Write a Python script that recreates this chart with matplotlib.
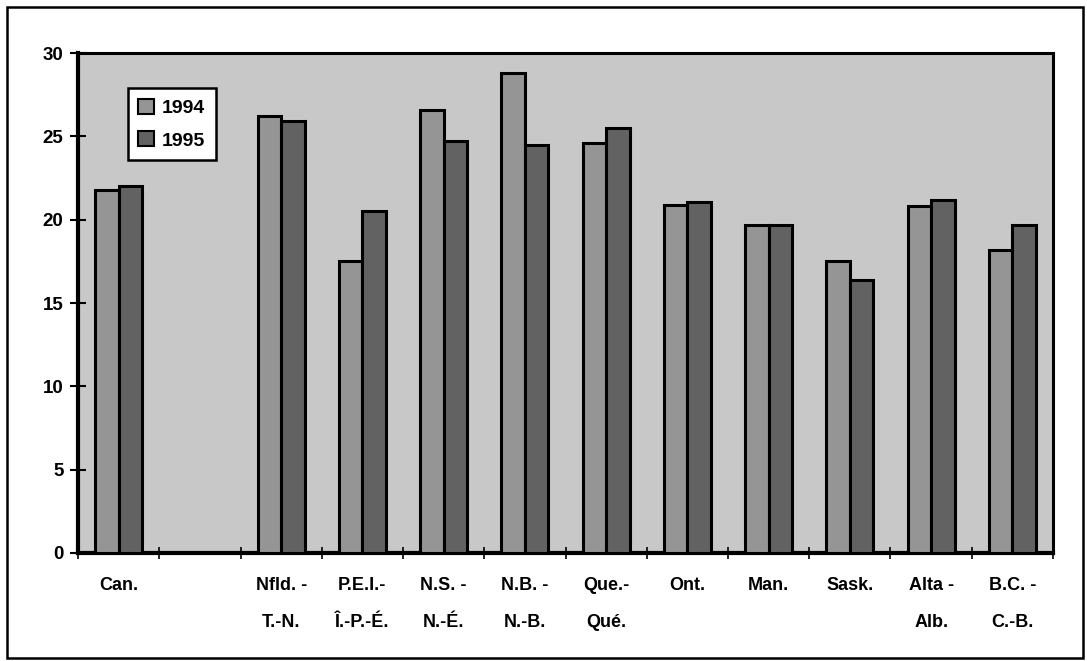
import numpy as np
import matplotlib
matplotlib.use('Agg')
import matplotlib.pyplot as plt
from matplotlib.patches import Patch, Rectangle

# Values per region, 1994 and 1995 (blank slot after Can. kept as in the original)
regions = ['Can.', '', 'Nfld. -\nT.-N.', 'P.E.I.-\nÎ.-P.-É.', 'N.S. -\nN.-É.', 'N.B. -\nN.-B.',
           'Que.-\nQué.', 'Ont.', 'Man.', 'Sask.', 'Alta -\nAlb.', 'B.C. -\nC.-B.']
vals_1994 = [21.8, np.nan, 26.2, 17.5, 26.6, 28.8, 24.6, 20.9, 19.7, 17.5, 20.8, 18.2]
vals_1995 = [22.0, np.nan, 25.9, 20.5, 24.7, 24.5, 25.5, 21.05, 19.7, 16.4, 21.2, 19.7]
years = ['1994', '1995']
yticks = [0, 5, 10, 15, 20, 25, 30]

# colours (halftone greys approximated by flat greys)
bg_col = '#c8c8c8'
colors = ['#959595', '#626262']

plt.rcParams['font.family'] = ['Liberation Sans', 'DejaVu Sans']

fig = plt.figure(figsize=(10.87, 6.61), dpi=100)
ax = fig.add_axes([0.0718, 0.1634, 0.8969, 0.7564])
ax.set_facecolor(bg_col)

x = np.arange(len(regions))
w = 0.29
ax.bar(x - w / 2, vals_1994, width=w, color=colors[0], edgecolor='black', linewidth=2.2, zorder=3)
ax.bar(x + w / 2, vals_1995, width=w, color=colors[1], edgecolor='black', linewidth=2.2, zorder=3)

ax.set_xlim(-0.5, len(regions) - 0.5)
ax.set_ylim(0, 30)
ax.set_yticks(yticks)
ax.set_yticklabels([str(t) for t in yticks], fontsize=13.5, fontweight='bold')
ax.tick_params(axis='y', direction='inout', length=11, width=1.5, pad=5)

# ticks between categories, labels at category centres
ax.set_xticks(np.arange(len(regions) + 1) - 0.5)
ax.set_xticklabels([])
ax.set_xticks(x, minor=True)
ax.set_xticklabels(regions, minor=True, fontsize=13, fontweight='bold', linespacing=2.6, va='top')
ax.tick_params(axis='x', which='major', direction='inout', length=9, width=1.2)
ax.tick_params(axis='x', which='minor', length=0, pad=17)

for side in ['left', 'bottom']:
    ax.spines[side].set_linewidth(3)
for side in ['top', 'right']:
    ax.spines[side].set_linewidth(2.2)

handles = [Patch(facecolor=colors[i], edgecolor='black', linewidth=1.5, label=years[i]) for i in range(2)]
leg = ax.legend(handles=handles, loc='upper left', bbox_to_anchor=(0.051, 0.93), borderaxespad=0,
                fancybox=False, frameon=True, handlelength=0.8, handleheight=0.8, handletextpad=0.4,
                labelspacing=0.75, borderpad=0.55, prop={'size': 14, 'weight': 'bold'})
leg.get_frame().set_edgecolor('black')
leg.get_frame().set_linewidth(1.8)
leg.get_frame().set_facecolor('white')
leg.get_frame().set_alpha(1)

# outer border around the whole figure
fig.patches.append(Rectangle((7 / 1087, 3 / 661), 1076 / 1087, 651 / 661, transform=fig.transFigure,
                             fill=False, edgecolor='black', linewidth=1.8))

fig.savefig('out.png', dpi=100, facecolor='white')
